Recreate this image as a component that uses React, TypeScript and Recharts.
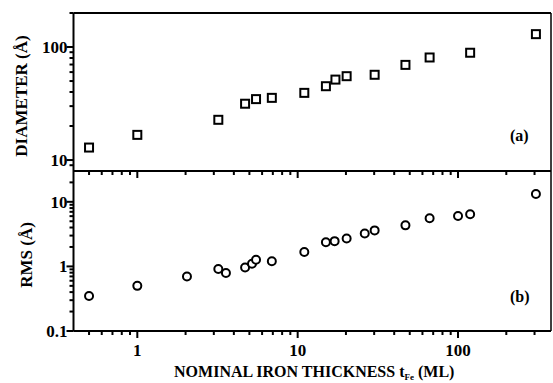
import React from 'react'
import { ScatterChart, Scatter, XAxis, YAxis, ReferenceLine } from 'recharts'

// panel (a): island diameter vs nominal Fe thickness
const diamThickness = [0.5, 1, 3.2, 4.7, 5.5, 6.9, 11, 15, 17.2, 20.2, 30.2, 47, 66.5, 119, 306]
const diameter = [12.9, 16.7, 22.7, 31.5, 34.6, 35.5, 39.3, 45, 51.5, 55.2, 56.8, 69.5, 80.8, 89, 130]

// panel (b): rms roughness
const rmsThickness = [0.5, 1, 2.04, 3.2, 3.57, 4.7, 5.19, 5.5, 6.9, 11, 15, 17, 20.2, 26.2, 30.2, 47, 66.5, 100, 119, 306]
const rms = [0.348, 0.5, 0.7, 0.91, 0.79, 0.96, 1.1, 1.27, 1.2, 1.67, 2.37, 2.46, 2.71, 3.24, 3.61, 4.32, 5.56, 6.04, 6.42, 13.2]

const xTicks = [0.5, 0.6, 0.7, 0.8, 0.9, 1, 2, 3, 4, 5, 6, 7, 8, 9, 10, 20, 30, 40, 50, 60, 70, 80, 90, 100, 200, 300]
const xLabels = [1, 10, 100]
const diamTicks = [9, 10, 20, 30, 40, 50, 60, 70, 80, 90, 100, 200]
const diamLabels = [10, 100]
const rmsTicks = [0.1, 0.2, 0.3, 0.4, 0.5, 0.6, 0.7, 0.8, 0.9, 1, 2, 3, 4, 5, 6, 7, 8, 9, 10, 20]
const rmsLabels = [0.1, 1, 10]

const X_DOMAIN = [0.4, 380]
const DIAM_DOMAIN = [8, 200]
const RMS_DOMAIN = [0.1, 30]

const FONT = '"Liberation Serif", "Times New Roman", serif'

const diamData = diamThickness.map((t, i) => ({ t, v: diameter[i] }))
const rmsData = rmsThickness.map((t, i) => ({ t, v: rms[i] }))

const XTick = (props: any) => {
  const { x, y, payload, showLabel } = props
  const major = xLabels.includes(payload.value)
  return (
    <g>
      <line x1={x} x2={x} y1={y} y2={y + (major ? 7 : 4)} stroke="#000" strokeWidth={2} />
      {showLabel && major && (
        <text x={x} y={y + 25} textAnchor="middle" fontFamily={FONT} fontWeight="bold" fontSize={17} fill="#000">
          {payload.value}
        </text>
      )}
    </g>
  )
}

const YTick = (props: any) => {
  const { x, y, payload, labels } = props
  const major = labels.includes(payload.value)
  return (
    <g>
      <line x1={x} x2={x - (major ? 7 : 4)} y1={y} y2={y} stroke="#000" strokeWidth={2} />
      {major && (
        <text x={x - 6} y={y} dy="0.35em" textAnchor="end" fontFamily={FONT} fontWeight="bold" fontSize={17} fill="#000">
          {payload.value}
        </text>
      )}
    </g>
  )
}

const YTitle = ({ viewBox, text, bx }: any) => {
  const cy = viewBox.y + viewBox.height / 2 + 4
  return (
    <text x={bx} y={cy} transform={`rotate(-90, ${bx}, ${cy})`} textAnchor="middle"
      fontFamily={FONT} fontWeight="bold" fontSize={17} fill="#000">
      {text}
    </text>
  )
}

const XTitle = ({ viewBox }: any) => {
  const cx = viewBox.x + viewBox.width / 2 + 2
  return (
    <text x={cx} y={viewBox.y + 46} textAnchor="middle" fontFamily={FONT} fontWeight="bold" fontSize={16} fill="#000">
      NOMINAL IRON THICKNESS t
      <tspan fontSize={9} dy={3}>Fe</tspan>
      <tspan dy={-3}> (ML)</tspan>
    </text>
  )
}

const Square = (props: any) => {
  const { cx, cy } = props
  return <rect x={cx - 4} y={cy - 4} width={8} height={8} fill="#fff" stroke="#000" strokeWidth={2} />
}

const Ring = (props: any) => {
  const { cx, cy } = props
  return <circle cx={cx} cy={cy} r={4} fill="#fff" stroke="#000" strokeWidth={2} />
}

const axisLine = { stroke: '#000', strokeWidth: 2 }

export default function App() {
  return (
    <div style={{ position: 'absolute', left: 0, top: 0, width: 553, height: 383, background: '#fff' }}>
      {/* (a) diameter */}
      <div style={{ position: 'absolute', left: 0, top: 0 }}>
        <ScatterChart width={553} height={185} margin={{ top: 13, right: 2, left: 0, bottom: 0 }}>
          <XAxis dataKey="t" type="number" scale="log" domain={X_DOMAIN} allowDataOverflow
            ticks={xTicks} interval={0} height={14} tickSize={0} tickMargin={0} tickLine={false}
            axisLine={axisLine} tick={(p: any) => <XTick {...p} showLabel={false} />} />
          <YAxis dataKey="v" type="number" scale="log" domain={DIAM_DOMAIN} allowDataOverflow
            ticks={diamTicks} interval={0} width={73.5} tickSize={0} tickMargin={0} tickLine={false}
            axisLine={axisLine} tick={(p: any) => <YTick {...p} labels={diamLabels} />}
            label={{ content: (p: any) => <YTitle {...p} text="DIAMETER (Å)" bx={27} /> }} />
          <ReferenceLine y={200} stroke="#000" strokeWidth={2} />
          <ReferenceLine x={380} stroke="#000" strokeWidth={1.5} />
          <Scatter data={diamData} shape={Square} isAnimationActive={false} />
        </ScatterChart>
      </div>
      {/* (b) rms */}
      <div style={{ position: 'absolute', left: 0, top: 160 }}>
        <ScatterChart width={553} height={223} margin={{ top: 11, right: 2, left: 0, bottom: 0 }}>
          <XAxis dataKey="t" type="number" scale="log" domain={X_DOMAIN} allowDataOverflow
            ticks={xTicks} interval={0} height={52} tickSize={0} tickMargin={0} tickLine={false}
            axisLine={axisLine} tick={(p: any) => <XTick {...p} showLabel />}
            label={{ content: (p: any) => <XTitle {...p} /> }} />
          <YAxis dataKey="v" type="number" scale="log" domain={RMS_DOMAIN} allowDataOverflow
            ticks={rmsTicks} interval={0} width={73.5} tickSize={0} tickMargin={0} tickLine={false}
            axisLine={axisLine} tick={(p: any) => <YTick {...p} labels={rmsLabels} />}
            label={{ content: (p: any) => <YTitle {...p} text="RMS (Å)" bx={32} /> }} />
          <ReferenceLine x={380} stroke="#000" strokeWidth={1.5} />
          <Scatter data={rmsData} shape={Ring} isAnimationActive={false} />
        </ScatterChart>
      </div>
      <div style={{ position: 'absolute', left: 510, top: 128, fontFamily: FONT, fontWeight: 'bold', fontSize: 16, lineHeight: '16px' }}>(a)</div>
      <div style={{ position: 'absolute', left: 510, top: 289, fontFamily: FONT, fontWeight: 'bold', fontSize: 16, lineHeight: '16px' }}>(b)</div>
    </div>
  )
}
